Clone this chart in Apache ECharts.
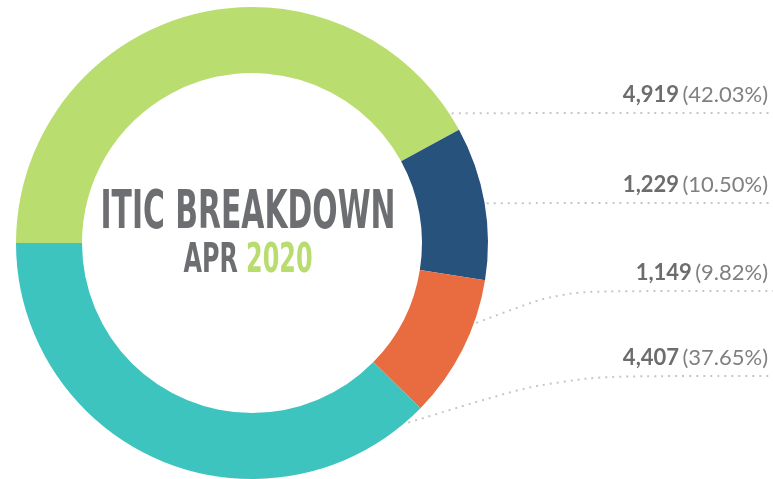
<!DOCTYPE html>
<html>
<head>
<meta charset="utf-8">
<script src="https://cdn.jsdelivr.net/npm/echarts@6/dist/echarts.min.js"></script>
<style>
  html, body { margin: 0; padding: 0; background: #fff; }
  #chart { width: 773px; height: 479px; }
</style>
</head>
<body>
<div id="chart"></div>
<script>
// data
var categories = ['Green', 'Blue', 'Orange', 'Teal'];
var values = [4919, 1229, 1149, 4407];
var colors = ['#badd70', '#27527c', '#e96c40', '#3ec4bf'];

// where each leader line leaves the ring (degrees, ccw from 3 o'clock) and its row
var anchorDeg = [33, 9.6, -19.6, -49];
var rowY = [113, 203, 291, 376];

var cx = 252, cy = 243, rIn = 170, rOut = 236;

// squeeze the heading so it fits like a condensed face
var titleFont = 'bold 53px "DejaVu Sans Condensed", "Liberation Sans", sans-serif';
var subFont = 'bold 40px "DejaVu Sans Condensed", "Liberation Sans", sans-serif';
var ctx = document.createElement('canvas').getContext('2d');
ctx.font = titleFont;
var titleScale = 295 / ctx.measureText('ITIC BREAKDOWN').width;
ctx.font = subFont;
var subScale = 129 / ctx.measureText('APR 2020').width;

var myChart = echarts.init(document.getElementById('chart'));

var option = {
  animation: false,
  color: colors,
  graphic: [
    {
      type: 'text', x: 248, y: 214, scaleX: titleScale, z: 100,
      style: {
        text: 'ITIC BREAKDOWN',
        font: titleFont,
        fill: '#6d6e71', align: 'center', verticalAlign: 'middle'
      }
    },
    {
      type: 'text', x: 248, y: 262, scaleX: subScale, z: 100,
      style: {
        text: '{a|APR} {b|2020}',
        font: subFont,
        align: 'center', verticalAlign: 'middle',
        rich: {
          a: { fill: '#6d6e71', font: subFont },
          b: { fill: '#b9dc6e', font: subFont }
        }
      }
    }
  ],
  series: [{
    type: 'pie',
    center: [cx, cy],
    radius: [rIn, rOut],
    startAngle: 180,
    clockwise: true,
    itemStyle: { borderWidth: 0 },
    emphasis: { disabled: true },
    data: categories.map(function (c, i) { return { name: c, value: values[i] }; }),
    label: {
      show: true,
      overflow: 'none',
      formatter: function (p) {
        return '{v|' + p.value.toLocaleString('en-US') + '} {p|(' + p.percent.toFixed(2) + '%)}';
      },
      rich: {
        v: { fontFamily: 'Lato', fontWeight: 'bold', fontSize: 22, color: '#6d6d6d' },
        p: { fontFamily: 'Lato', fontWeight: 'normal', fontSize: 22, color: '#808080' }
      }
    },
    labelLine: {
      show: true,
      smooth: 0.25,
      lineStyle: { color: '#c6c6c6', width: 2, type: [2, 5] }
    },
    labelLayout: function (params) {
      var i = params.dataIndex;
      var a = anchorDeg[i] * Math.PI / 180;
      var sx = cx + (rOut + 2) * Math.cos(a);
      var sy = cy - (rOut + 2) * Math.sin(a);
      var y = rowY[i];
      return {
        x: 768,
        y: y - 18,
        align: 'right',
        verticalAlign: 'middle',
        labelLinePoints: [[sx, sy], [562, y], [773, y]]
      };
    }
  }]
};

myChart.setOption(option);
</script>
</body>
</html>
